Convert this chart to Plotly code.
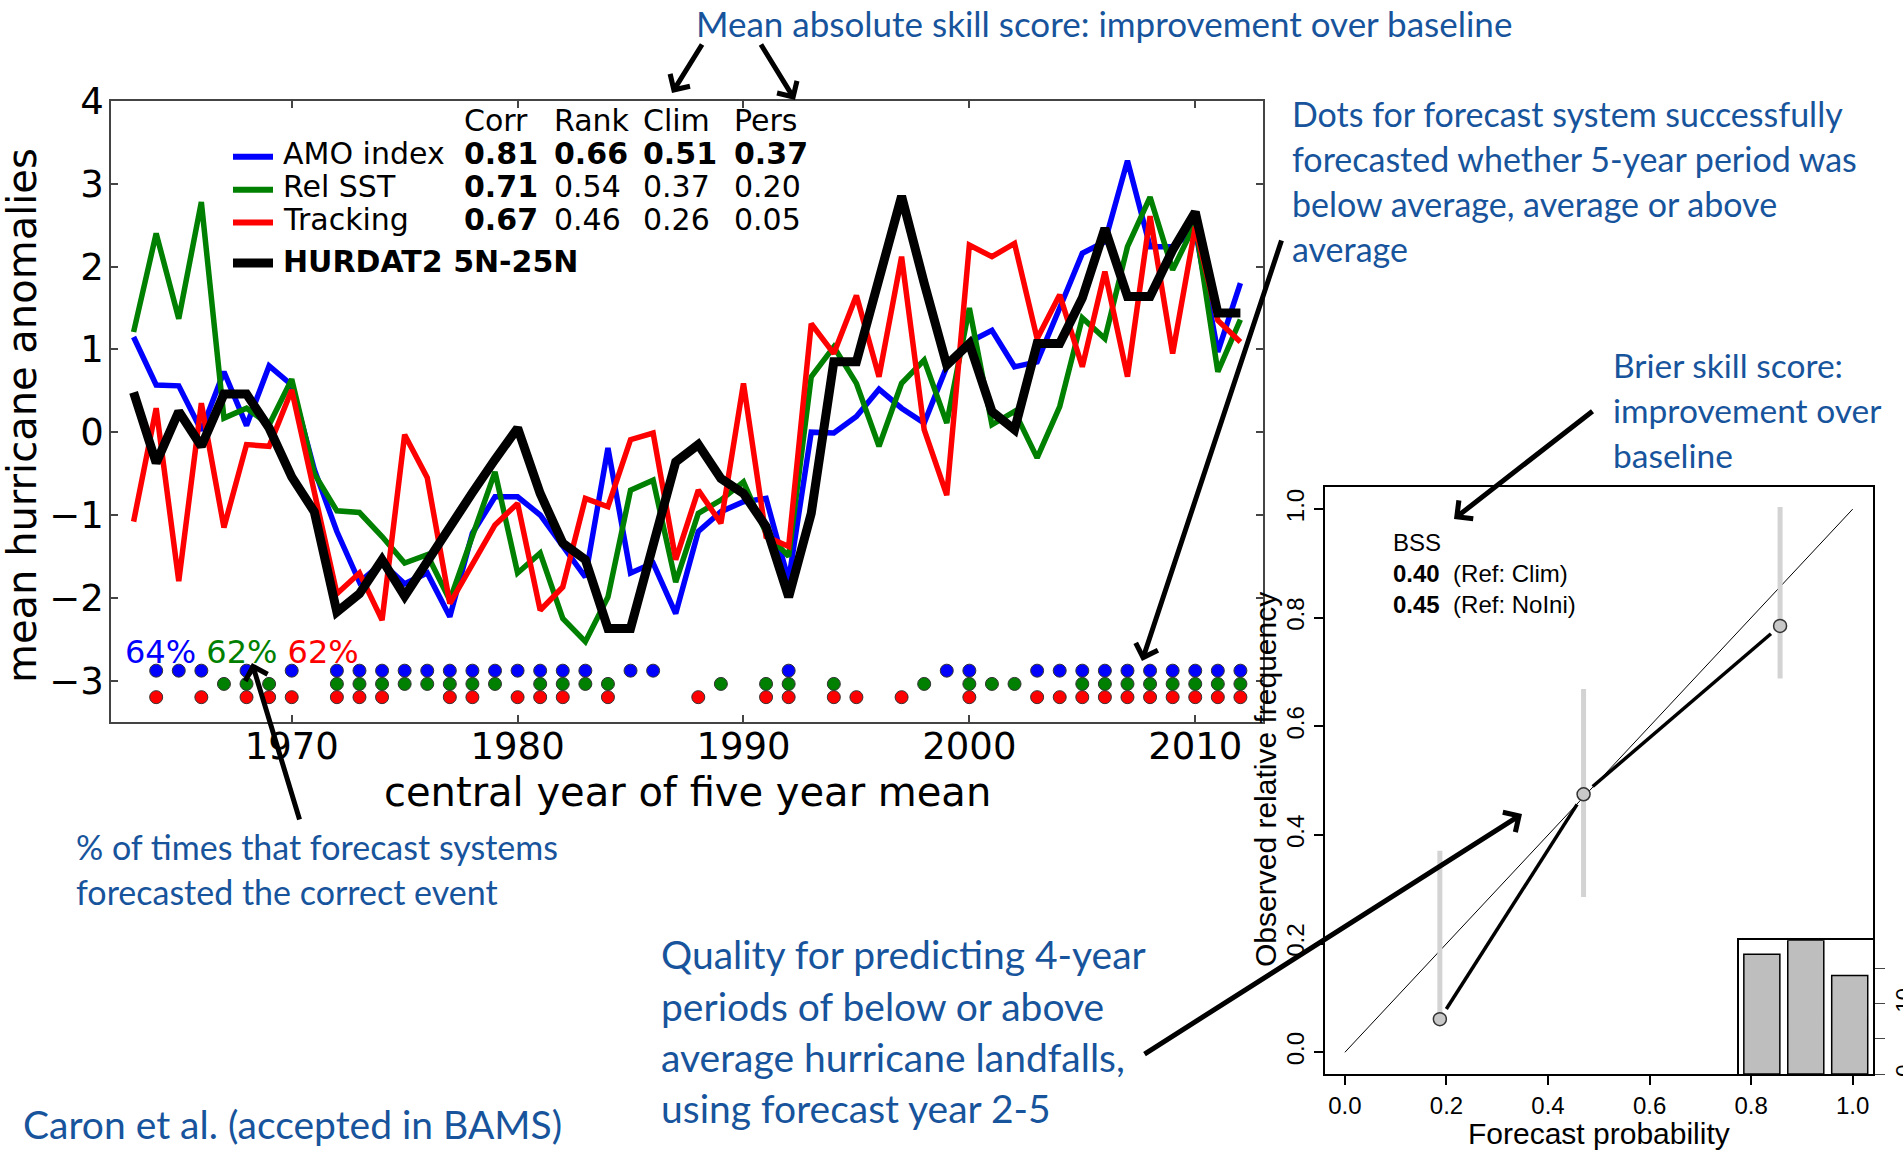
import plotly.graph_objects as go

W, H = 1903, 1153

# ---------------- data: main time-series panel ----------------
years = list(range(1963, 2013))
amo_index = [1.15, 0.57, 0.56, 0.02, 0.73, 0.08, 0.80, 0.57, -0.45, -1.20,
             -1.81, -1.58, -1.83, -1.70, -2.23, -1.22, -0.78, -0.78, -1.00, -1.38,
             -1.75, -0.19, -1.70, -1.58, -2.19, -1.20, -0.96, -0.84, -0.80, -1.79,
             0.00, -0.01, 0.19, 0.52, 0.29, 0.11, 0.79, 1.09, 1.23, 0.79,
             0.85, 1.50, 2.16, 2.30, 3.28, 2.24, 2.24, 2.45, 0.97, 1.80]
rel_sst = [1.21, 2.40, 1.37, 2.78, 0.17, 0.29, 0.09, 0.64, -0.50, -0.95,
           -0.97, -1.26, -1.58, -1.48, -2.03, -1.25, -0.48, -1.70, -1.46, -2.25,
           -2.53, -1.99, -0.70, -0.58, -1.81, -0.98, -0.82, -0.60, -1.22, -1.50,
           0.67, 1.03, 0.59, -0.17, 0.59, 0.87, 0.11, 1.50, 0.09, 0.25,
           -0.31, 0.31, 1.38, 1.13, 2.24, 2.84, 1.96, 2.52, 0.73, 1.36]
tracking = [-1.08, 0.29, -1.80, 0.35, -1.15, -0.15, -0.17, 0.51, -0.72, -1.95,
            -1.70, -2.27, -0.03, -0.55, -2.07, -1.60, -1.12, -0.86, -2.15, -1.87,
            -0.80, -0.90, -0.09, -0.01, -1.54, -0.70, -1.10, 0.59, -1.26, -1.38,
            1.31, 0.95, 1.65, 0.67, 2.12, 0.03, -0.76, 2.26, 2.12, 2.28,
            1.13, 1.66, 0.79, 1.94, 0.67, 2.61, 0.95, 2.48, 1.35, 1.09]
hurdat2 = [0.48, -0.37, 0.25, -0.17, 0.46, 0.46, 0.05, -0.54, -0.96, -2.17,
           -1.95, -1.54, -1.98, -1.55, -1.15, -0.73, -0.33, 0.05, -0.74, -1.34,
           -1.54, -2.37, -2.37, -1.36, -0.36, -0.15, -0.56, -0.74, -1.14, -1.99,
           -0.98, 0.85, 0.85, 1.85, 2.85, 1.80, 0.81, 1.07, 0.25, 0.03,
           1.07, 1.07, 1.62, 2.46, 1.64, 1.64, 2.20, 2.66, 1.44, 1.44]

# years in which each system forecast the correct tercile
amo_hits = [1964, 1965, 1966, 1968, 1970, 1972, 1973, 1974, 1975, 1976, 1977,
            1978, 1979, 1980, 1981, 1982, 1983, 1985, 1986, 1992, 1999, 2000,
            2003, 2004, 2005, 2006, 2007, 2008, 2009, 2010, 2011, 2012]
sst_hits = [1967, 1968, 1969, 1972, 1973, 1974, 1975, 1976, 1977, 1978, 1979,
            1981, 1982, 1983, 1984, 1989, 1991, 1992, 1994, 1998, 2000, 2001,
            2002, 2005, 2006, 2007, 2008, 2009, 2010, 2011, 2012]
trk_hits = [1964, 1966, 1968, 1969, 1970, 1972, 1973, 1974, 1977, 1978, 1980,
            1981, 1982, 1984, 1988, 1991, 1992, 1994, 1995, 1997, 2000, 2003,
            2004, 2005, 2006, 2007, 2008, 2009, 2010, 2011, 2012]

series_names = ["AMO index", "Rel SST", "Tracking"]
score_headers = ["Corr", "Rank", "Clim", "Pers"]
corr_scores = [0.81, 0.71, 0.67]
rank_scores = [0.66, 0.54, 0.46]
clim_scores = [0.51, 0.37, 0.26]
pers_scores = [0.37, 0.20, 0.05]
corr_bold = [True, True, True]
rank_bold = [True, False, False]
clim_bold = [True, False, False]
pers_bold = [True, False, False]
obs_name = "HURDAT2 5N-25N"

x_ticks = [1970, 1980, 1990, 2000, 2010]
y_ticks = [-3, -2, -1, 0, 1, 2, 3, 4]

# ---------------- data: reliability diagram ----------------
fc_prob = [0.187, 0.470, 0.857]
obs_freq = [0.061, 0.475, 0.785]
ci_low = [0.061, 0.286, 0.688]
ci_high = [0.371, 0.669, 1.004]
hist_counts = [17, 19, 14]
bss_clim = 0.40
bss_noini = 0.45
rel_ticks = [0.0, 0.2, 0.4, 0.6, 0.8, 1.0]
hist_ticks = [0, 5, 10, 15]
hist_ticktext = ["0", "", "10", ""]

# ---------------- styling constants ----------------
BLUE, GREEN, RED, BLACK = "#0000FF", "#008000", "#FF0000", "#000000"
NOTE = "#17549C"
MPL = "DejaVu Sans"
RFONT = "Liberation Sans, Arial, sans-serif"
NFONT = "Lato, sans-serif"


def px(xp):
    return xp / W


def py(yp):
    return 1 - yp / H


main_dom_x = [px(111), px(1263)]
main_dom_y = [py(722), py(101)]
rel_dom_x = [px(1324.6), px(1873)]
rel_dom_y = [py(1074), py(487.4)]
ins_dom_x = [px(1739), px(1873)]
ins_dom_y = [py(1074), py(940.3)]
main_xr = [1962, 2013]
main_yr = [-3.5, 4.0]
rel_r = [-0.04, 1.04]

fig = go.Figure()

# main lines
for vals, col, wid in [(amo_index, BLUE, 5.5), (rel_sst, GREEN, 5.5),
                       (tracking, RED, 5.5), (hurdat2, BLACK, 9)]:
    fig.add_trace(go.Scatter(x=years, y=vals, mode="lines",
                             line=dict(color=col, width=wid),
                             xaxis="x", yaxis="y", showlegend=False,
                             hoverinfo="skip"))

# hit dots
dot_rows = [(amo_hits, BLUE, -2.88), (sst_hits, GREEN, -3.04), (trk_hits, RED, -3.20)]
for hits, col, yrow in dot_rows:
    fig.add_trace(go.Scatter(x=hits, y=[yrow] * len(hits), mode="markers",
                             marker=dict(size=13, color=col,
                                         line=dict(color="#333333", width=1)),
                             xaxis="x", yaxis="y", showlegend=False,
                             hoverinfo="skip"))

# reliability: diagonal
fig.add_trace(go.Scatter(x=[0, 1], y=[0, 1], mode="lines",
                         line=dict(color="black", width=1),
                         xaxis="x2", yaxis="y2", showlegend=False, hoverinfo="skip"))
# confidence bars
for p, lo, hi in zip(fc_prob, ci_low, ci_high):
    fig.add_trace(go.Scatter(x=[p, p], y=[lo, hi], mode="lines",
                             line=dict(color="#D3D3D3", width=5),
                             xaxis="x2", yaxis="y2", showlegend=False,
                             hoverinfo="skip"))
# connecting segments with gaps (R type="b")
rel_w_px = 1873 - 1324.6
rel_h_px = 1074 - 487.4
sx = rel_w_px / (rel_r[1] - rel_r[0])
sy = rel_h_px / (rel_r[1] - rel_r[0])
gap = 12.0
seg_x, seg_y = [], []
for i in range(len(fc_prob) - 1):
    x0, y0, x1, y1 = fc_prob[i], obs_freq[i], fc_prob[i + 1], obs_freq[i + 1]
    L = (((x1 - x0) * sx) ** 2 + ((y1 - y0) * sy) ** 2) ** 0.5
    f = gap / L
    seg_x += [x0 + f * (x1 - x0), x1 - f * (x1 - x0), None]
    seg_y += [y0 + f * (y1 - y0), y1 - f * (y1 - y0), None]
fig.add_trace(go.Scatter(x=seg_x, y=seg_y, mode="lines",
                         line=dict(color="black", width=3.5),
                         xaxis="x2", yaxis="y2", showlegend=False, hoverinfo="skip"))
fig.add_trace(go.Scatter(x=fc_prob, y=obs_freq, mode="markers",
                         marker=dict(size=13, color="#C8C8C8",
                                     line=dict(color="#333333", width=1.5)),
                         xaxis="x2", yaxis="y2", showlegend=False, hoverinfo="skip"))
# inset histogram
fig.add_trace(go.Bar(x=list(range(len(hist_counts))), y=hist_counts, width=0.82,
                     marker=dict(color="#BEBEBE", line=dict(color="black", width=1.5)),
                     xaxis="x3", yaxis="y3", showlegend=False, hoverinfo="skip"))

ann = []
shapes = []

# ---- legend / score table in main panel ----
LEG_FS = 30
leg_rows_y = [153.7, 186.7, 219.5]
leg_cols_x = [462, 552, 641, 732]
for j, hdr in enumerate(score_headers):
    ann.append(dict(x=px(leg_cols_x[j]), y=py(120.8), xref="paper", yref="paper",
                    text=hdr, showarrow=False, xanchor="left", yanchor="middle",
                    font=dict(family=MPL, size=LEG_FS, color="black")))
cols = [(corr_scores, corr_bold), (rank_scores, rank_bold),
        (clim_scores, clim_bold), (pers_scores, pers_bold)]
for i, (name, col) in enumerate(zip(series_names, [BLUE, GREEN, RED])):
    yy = leg_rows_y[i]
    shapes.append(dict(type="line", xref="paper", yref="paper",
                       x0=px(233), x1=px(273), y0=py(yy + 3), y1=py(yy + 3),
                       line=dict(color=col, width=6)))
    ann.append(dict(x=px(281), y=py(yy), xref="paper", yref="paper", text=name,
                    showarrow=False, xanchor="left", yanchor="middle",
                    font=dict(family=MPL, size=LEG_FS, color="black")))
    for j, (vals, bold) in enumerate(cols):
        t = f"{vals[i]:.2f}"
        if bold[i]:
            t = f"<b>{t}</b>"
        ann.append(dict(x=px(leg_cols_x[j]), y=py(yy), xref="paper", yref="paper",
                        text=t, showarrow=False, xanchor="left", yanchor="middle",
                        font=dict(family=MPL, size=LEG_FS, color="black")))
shapes.append(dict(type="line", xref="paper", yref="paper",
                   x0=px(233), x1=px(273), y0=py(263), y1=py(263),
                   line=dict(color=BLACK, width=9)))
ann.append(dict(x=px(281), y=py(261), xref="paper", yref="paper",
                text=f"<b>{obs_name}</b>", showarrow=False, xanchor="left",
                yanchor="middle", font=dict(family=MPL, size=LEG_FS, color="black")))

# ---- percentages ----
pct = [round(100 * len(h) / len(years)) for h in (amo_hits, sst_hits, trk_hits)]
pct_text = (f"<span style='color:{BLUE}'>{pct[0]}%</span> "
            f"<span style='color:{GREEN}'>{pct[1]}%</span> "
            f"<span style='color:{RED}'>{pct[2]}%</span>")
ann.append(dict(x=px(123), y=py(652), xref="paper", yref="paper", text=pct_text,
                showarrow=False, xanchor="left", yanchor="middle",
                font=dict(family=MPL, size=32)))

# ---- axis titles ----
ann.append(dict(x=px(687), y=py(792), xref="paper", yref="paper",
                text="central year of five year mean", showarrow=False,
                xanchor="center", yanchor="middle",
                font=dict(family=MPL, size=40, color="black")))
ann.append(dict(x=px(22), y=py(416), xref="paper", yref="paper",
                text="mean hurricane anomalies", showarrow=False, textangle=-90,
                xanchor="center", yanchor="middle",
                font=dict(family=MPL, size=40, color="black")))
ann.append(dict(x=px(1599), y=py(1133), xref="paper", yref="paper",
                text="Forecast probability", showarrow=False,
                xanchor="center", yanchor="middle",
                font=dict(family=RFONT, size=30, color="black")))
ann.append(dict(x=px(1265), y=py(780), xref="paper", yref="paper",
                text="Observed relative frequency", showarrow=False, textangle=-90,
                xanchor="center", yanchor="middle",
                font=dict(family=RFONT, size=30, color="black")))

# ---- BSS text ----
bss_lines = ["BSS",
             f"<b>{bss_clim:.2f}</b>\u00a0\u00a0(Ref: Clim)",
             f"<b>{bss_noini:.2f}</b>\u00a0\u00a0(Ref: NoIni)"]
for k, t in enumerate(bss_lines):
    ann.append(dict(x=0.09, y=[0.938, 0.881, 0.824][k], xref="x2", yref="y2",
                    text=t, showarrow=False, xanchor="left", yanchor="middle",
                    font=dict(family=RFONT, size=24, color="black")))

# ---- blue explanatory notes ----
notes = [
    ("Mean absolute skill score: improvement over baseline", 694, 23, 35),
    ("Dots for forecast system successfully", 1290, 113, 34),
    ("forecasted whether 5-year period was", 1290, 158, 34),
    ("below average, average or above", 1290, 203, 34),
    ("average", 1290, 248, 34),
    ("Brier skill score:", 1611, 365, 33.5),
    ("improvement over", 1611, 410, 33.5),
    ("baseline", 1611, 455, 33.5),
    ("% of times that forecast systems", 74, 846, 34),
    ("forecasted the correct event", 74, 891, 34),
    ("Quality for predicting 4-year", 659, 954, 39),
    ("periods of below or above", 659, 1006, 39),
    ("average hurricane landfalls,", 659, 1057, 39),
    ("using forecast year 2-5", 659, 1108, 39),
    ("Caron et al. (accepted in BAMS)", 21, 1124, 39),
]
for t, xx, yy, fs in notes:
    ann.append(dict(x=px(xx), y=py(yy), xref="paper", yref="paper", text=t,
                    showarrow=False, xanchor="left", yanchor="middle",
                    font=dict(family=NFONT, size=fs, color=NOTE)))

# ---- arrows (tip, tail) ----
arrows = [((672, 93), (703, 43)),
          ((795, 100), (760, 43)),
          ((1142, 661), (1282, 239)),
          ((1454, 519), (1594, 410)),
          ((252, 663), (300, 821)),
          ((1522, 814), (1143, 1055))]
for (tx, ty), (sx0, sy0) in arrows:
    ann.append(dict(x=px(tx), y=py(ty), xref="paper", yref="paper",
                    ax=sx0 - tx, ay=sy0 - ty, axref="pixel", ayref="pixel",
                    text="", showarrow=True, arrowhead=4, arrowsize=0.9,
                    arrowwidth=5, arrowcolor="black", standoff=0, startstandoff=0))

axis_main = dict(showgrid=False, zeroline=False, showline=True, linecolor="#444444",
                 linewidth=1.5, mirror="ticks", ticks="inside", ticklen=7,
                 tickwidth=1.5, tickcolor="#444444", automargin=False,
                 tickfont=dict(family=MPL, size=37, color="black"))
axis_rel = dict(showgrid=False, zeroline=False, showline=True, linecolor="black",
                linewidth=1.5, mirror=True, ticks="outside", ticklen=9,
                tickwidth=1.5, tickcolor="black", automargin=False,
                tickfont=dict(family=RFONT, size=24, color="black"))

fig.update_layout(
    width=W, height=H, autosize=False,
    margin=dict(l=0, r=0, t=0, b=0, pad=0, autoexpand=False),
    paper_bgcolor="white", plot_bgcolor="white",
    showlegend=False,
    xaxis=dict(domain=main_dom_x, range=main_xr, tickvals=x_ticks, anchor="y",
               ticklabelstandoff=-9, **axis_main),
    yaxis=dict(domain=main_dom_y, range=main_yr, tickvals=y_ticks, anchor="x",
               ticklabelstandoff=-2, **axis_main),
    xaxis2=dict(domain=rel_dom_x, range=rel_r, tickvals=rel_ticks,
                ticktext=[f"{v:.1f}" for v in rel_ticks], anchor="y2", **axis_rel),
    yaxis2=dict(domain=rel_dom_y, range=rel_r, tickvals=rel_ticks,
                ticktext=[f"{v:.1f}" for v in rel_ticks], anchor="x2",
                tickangle=-90, **axis_rel),
    xaxis3=dict(domain=ins_dom_x, range=[-0.52, 2.53], anchor="y3",
                showticklabels=False, showgrid=False, zeroline=False, automargin=False,
                showline=True, linecolor="black", linewidth=1.5, mirror=True, ticks=""),
    yaxis3=dict(domain=ins_dom_y, range=[0, 19], anchor="x3", side="right",
                tickvals=hist_ticks, ticktext=hist_ticktext, tickangle=-90,
                showgrid=False, zeroline=False, showline=True, linecolor="black",
                linewidth=1.5, mirror=True, ticks="outside", ticklen=10,
                automargin=False,
                tickfont=dict(family=RFONT, size=22, color="black")),
    annotations=ann,
    shapes=shapes,
)

fig.write_html("out.html", include_plotlyjs=True, full_html=True,
               config={"displayModeBar": False},
               post_script="document.body.style.margin='0';document.body.style.overflow='hidden';")
